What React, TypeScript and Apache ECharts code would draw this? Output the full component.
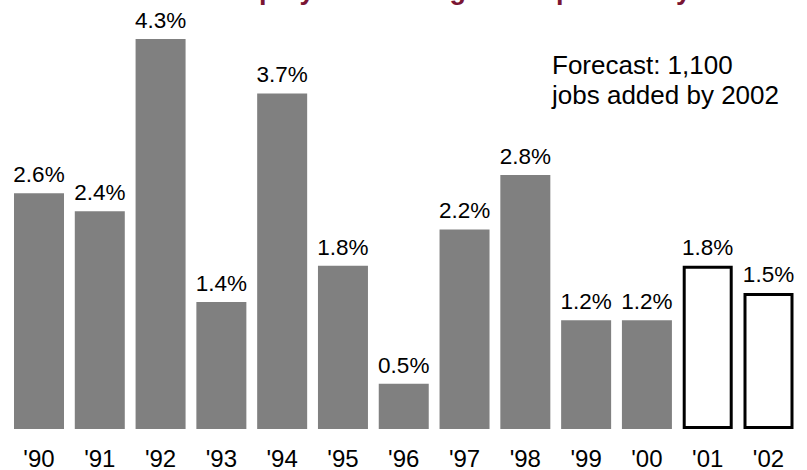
import React, { useEffect, useRef } from "react";
import * as echarts from "echarts";

const categories = ["'90", "'91", "'92", "'93", "'94", "'95", "'96", "'97", "'98", "'99", "'00", "'01", "'02"];
const growthValues = [2.6, 2.4, 4.3, 1.4, 3.7, 1.8, 0.5, 2.2, 2.8, 1.2, 1.2, 1.8, 1.5];
const forecastFlags = [false, false, false, false, false, false, false, false, false, false, false, true, true];
const titleText = "Employment change from previous year";
const noteLines = ["Forecast: 1,100", "jobs added by 2002"];

const FONT = "'Liberation Sans', Arial, Helvetica, sans-serif";

export default function App() {
  const ref = useRef<HTMLDivElement>(null);

  useEffect(() => {
    if (!ref.current) return;
    const chart = echarts.init(ref.current, undefined, { renderer: "svg" });
    const data = growthValues.map((v, i) =>
      forecastFlags[i]
        ? { value: v, itemStyle: { color: "#ffffff", borderColor: "#000000", borderWidth: 3 } }
        : { value: v, itemStyle: { color: "#808080" } }
    );
    chart.setOption({
      animation: false,
      backgroundColor: "#ffffff",
      grid: { left: 8.6, width: 790.3, top: 39, bottom: 38, containLabel: false },
      xAxis: {
        type: "category",
        data: categories,
        axisLine: { show: false },
        axisTick: { show: false },
        axisLabel: { color: "#000", fontSize: 24, fontFamily: FONT, margin: 17 },
      },
      yAxis: {
        type: "value",
        min: 0,
        max: 4.3,
        show: false,
        splitLine: { show: false },
      },
      series: [
        {
          type: "bar",
          data,
          barWidth: 50,
          label: {
            show: true,
            position: "top",
            distance: 7,
            color: "#000",
            fontSize: 22.5,
            fontFamily: FONT,
            formatter: (p: any) => `${Number(p.value).toFixed(1)}%`,
          },
        },
      ],
      graphic: [
        {
          type: "text",
          x: 217,
          y: -10,
          style: {
            text: titleText,
            fill: "#7a1533",
            font: `bold 27px ${FONT}`,
            verticalAlign: "middle",
            align: "left",
          },
        },
        {
          type: "text",
          x: 552,
          y: 50,
          style: {
            text: noteLines.join("\n"),
            fill: "#000",
            font: `26px ${FONT}`,
            lineHeight: 30,
            verticalAlign: "top",
            align: "left",
          },
        },
      ],
    });
    return () => chart.dispose();
  }, []);

  return (
    <div
      ref={ref}
      style={{ position: "fixed", left: 0, top: 0, width: 807, height: 470, background: "#fff" }}
    />
  );
}
